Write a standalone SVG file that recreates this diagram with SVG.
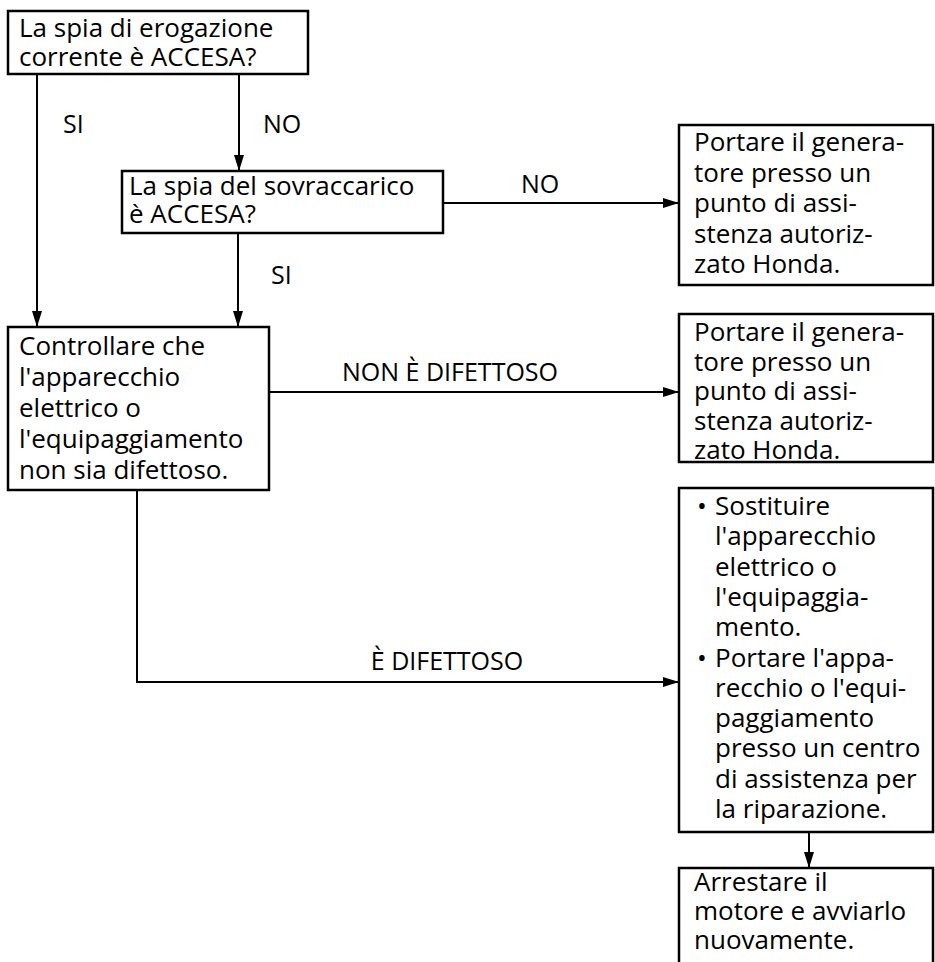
<svg xmlns="http://www.w3.org/2000/svg" width="935" height="962" viewBox="0 0 935 962">
<defs>
<marker id="ah" markerWidth="16" markerHeight="10" refX="16" refY="5" orient="auto" markerUnits="userSpaceOnUse">
<path d="M0,0 L16,5 L0,10 Z" fill="#000"/>
</marker>
<style>
.box{fill:#fff;stroke:#000;stroke-width:2.5}
.t{font-family:"Open Sans","Noto Sans","Liberation Sans",sans-serif;font-size:26px;fill:#000}
.lbl{font-family:"Open Sans","Noto Sans","Liberation Sans",sans-serif;font-size:25px;fill:#000}
.c{fill:none;stroke:#000;stroke-width:2}
</style>
</defs>
<rect width="935" height="962" fill="#fff"/>
<g id="connectors">
<line class="c" x1="37" y1="74" x2="37" y2="327" marker-end="url(#ah)"/>
<line class="c" x1="239" y1="74" x2="239" y2="171" marker-end="url(#ah)"/>
<line class="c" x1="443" y1="203" x2="679" y2="203" marker-end="url(#ah)"/>
<line class="c" x1="238" y1="233" x2="238" y2="327" marker-end="url(#ah)"/>
<line class="c" x1="269" y1="392" x2="679" y2="392" marker-end="url(#ah)"/>
<polyline class="c" points="137,490 137,682 679,682" marker-end="url(#ah)"/>
<line class="c" x1="809" y1="832" x2="809" y2="868" marker-end="url(#ah)"/>
<text class="lbl" x="63" y="133">SI</text>
<text class="lbl" x="263" y="133">NO</text>
<text class="lbl" x="521" y="193">NO</text>
<text class="lbl" x="271" y="284">SI</text>
<text class="lbl" x="450" y="381" text-anchor="middle">NON È DIFETTOSO</text>
<text class="lbl" x="447" y="670" text-anchor="middle">È DIFETTOSO</text>
</g>
<g id="n1">
<rect class="box" x="8" y="11" width="300" height="63"/>
<text class="t" x="19" y="37">La spia di erogazione</text>
<text class="t" x="19" y="66">corrente è ACCESA?</text>
</g>
<g id="n2">
<rect class="box" x="122" y="171" width="321" height="62"/>
<text class="t" x="129" y="195">La spia del sovraccarico</text>
<text class="t" x="129" y="223">è ACCESA?</text>
</g>
<g id="n3">
<rect class="box" x="679" y="125" width="254" height="160"/>
<text class="t" x="694" y="151">Portare il genera-</text>
<text class="t" x="694" y="181.5">tore presso un</text>
<text class="t" x="694" y="212">punto di assi-</text>
<text class="t" x="694" y="242.5">stenza autoriz-</text>
<text class="t" x="694" y="273">zato Honda.</text>
</g>
<g id="n4">
<rect class="box" x="8" y="327" width="261" height="163"/>
<text class="t" x="19" y="355">Controllare che</text>
<text class="t" x="19" y="386">l'apparecchio</text>
<text class="t" x="19" y="417">elettrico o</text>
<text class="t" x="19" y="448">l'equipaggiamento</text>
<text class="t" x="19" y="479">non sia difettoso.</text>
</g>
<g id="n5">
<rect class="box" x="679" y="314" width="254" height="148"/>
<text class="t" x="694" y="341">Portare il genera-</text>
<text class="t" x="694" y="370.5">tore presso un</text>
<text class="t" x="694" y="400">punto di assi-</text>
<text class="t" x="694" y="429.5">stenza autoriz-</text>
<text class="t" x="694" y="459">zato Honda.</text>
</g>
<g id="n6">
<rect class="box" x="679" y="488" width="254" height="344"/>
<text class="t" x="697" y="515">•</text>
<text class="t" x="715" y="515">Sostituire</text>
<text class="t" x="715" y="545">l'apparecchio</text>
<text class="t" x="715" y="576">elettrico o</text>
<text class="t" x="715" y="606">l'equipaggia-</text>
<text class="t" x="715" y="636">mento.</text>
<text class="t" x="697" y="667">•</text>
<text class="t" x="715" y="667">Portare l'appa-</text>
<text class="t" x="715" y="697">recchio o l'equi-</text>
<text class="t" x="715" y="727">paggiamento</text>
<text class="t" x="715" y="757">presso un centro</text>
<text class="t" x="715" y="788">di assistenza per</text>
<text class="t" x="715" y="818">la riparazione.</text>
</g>
<g id="n7">
<rect class="box" x="679" y="868" width="254" height="110"/>
<text class="t" x="694" y="891">Arrestare il</text>
<text class="t" x="694" y="920">motore e avviarlo</text>
<text class="t" x="694" y="949">nuovamente.</text>
</g>
</svg>
